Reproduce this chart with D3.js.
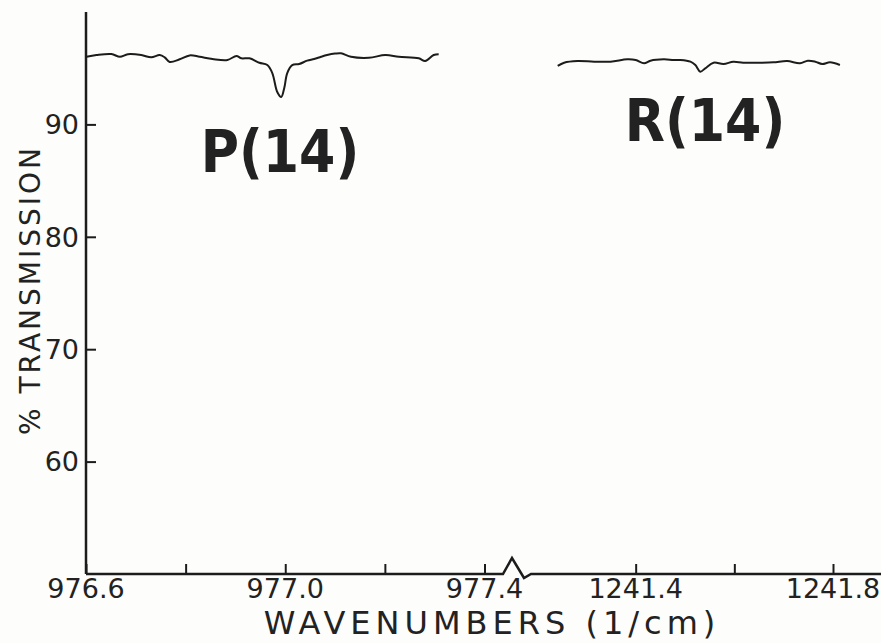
<!DOCTYPE html>
<html>
<head>
<meta charset="utf-8">
<script src="https://cdn.jsdelivr.net/npm/d3@7"></script>
<style>
  body { margin: 0; background: #fdfdfb; }
  svg text { fill: #222; }
</style>
</head>
<body>
<svg id="chart" width="881" height="643"></svg>
<script>
// P(14) trace, wavenumber (1/cm) and % transmission
var pWave = [976.601, 976.621, 976.651, 976.668, 976.684, 976.711, 976.731, 976.748, 976.758, 976.768,
    976.788, 976.808, 976.828, 976.854, 976.884, 976.902, 976.912, 976.928, 976.948, 976.964,
    976.974, 976.984, 976.992, 976.998, 977.004, 977.014, 977.028, 977.044, 977.058, 977.072,
    977.084, 977.100, 977.112, 977.132, 977.168, 977.201, 977.228, 977.268, 977.281, 977.298, 977.308];
var pTrans = [96.02, 96.17, 96.26, 96.02, 96.24, 96.17, 95.97, 96.17, 95.97, 95.55,
    95.79, 96.14, 96.02, 95.82, 95.73, 96.09, 95.88, 95.88, 95.49, 95.28,
    94.57, 92.88, 92.44, 93.24, 94.57, 95.28, 95.37, 95.67, 95.82, 96.02,
    96.17, 96.30, 96.33, 96.02, 95.93, 96.17, 96.02, 95.88, 95.64, 96.17, 96.24];

// R(14) trace
var rWave = [1241.242, 1241.255, 1241.282, 1241.316, 1241.349, 1241.383, 1241.400, 1241.417, 1241.430, 1241.457,
    1241.477, 1241.491, 1241.511, 1241.521, 1241.531, 1241.541, 1241.558, 1241.578, 1241.598, 1241.618,
    1241.646, 1241.679, 1241.707, 1241.733, 1241.749, 1241.764, 1241.778, 1241.794, 1241.814];
var rTrans = [95.20, 95.49, 95.64, 95.58, 95.58, 95.79, 95.73, 95.44, 95.67, 95.79,
    95.73, 95.73, 95.58, 95.28, 94.69, 94.99, 95.49, 95.37, 95.58, 95.49,
    95.49, 95.52, 95.64, 95.44, 95.67, 95.58, 95.37, 95.52, 95.28];

var yTicks = [60, 70, 80, 90];
var pTicks = [976.6, 976.8, 977.0, 977.2, 977.4];
var pTickLabels = ["976.6", "", "977.0", "", "977.4"];
var rTicks = [1241.4, 1241.6, 1241.8];
var rTickLabels = ["1241.4", "", "1241.8"];

var svg = d3.select("#chart");
var ink = "#1c1c1c";
var font = "'DejaVu Sans', sans-serif";

var y = d3.scaleLinear().domain([50, 100]).range([574, 12]);
var xP = d3.scaleLinear().domain([976.6, 977.4]).range([86, 484.5]);
var xR = d3.scaleLinear().domain([1241.2, 1241.8]).range([537, 833]);

// y axis, ticks pointing inward
var yAxis = svg.append("g")
    .attr("transform", "translate(" + xP(976.6) + ",0)")
    .call(d3.axisRight(y).tickValues(yTicks).tickSize(10).tickFormat(""));
yAxis.select(".domain").remove();
yAxis.selectAll("line").attr("stroke", ink).attr("stroke-width", 2);
svg.append("line")
    .attr("x1", xP(976.6)).attr("x2", xP(976.6))
    .attr("y1", y(100)).attr("y2", y(50))
    .attr("stroke", ink).attr("stroke-width", 2.5);
svg.selectAll(".ylab").data(yTicks).enter().append("text")
    .attr("x", 79).attr("y", function(d) { return y(d); })
    .attr("dy", "0.36em")
    .attr("text-anchor", "end")
    .style("font-family", font).style("font-size", "27px")
    .text(function(d) { return d; });

// x axes, ticks pointing up
function xAxis(scale, ticks, labels) {
    var g = svg.append("g")
        .attr("transform", "translate(0," + y(50) + ")")
        .call(d3.axisTop(scale).tickValues(ticks).tickSize(10).tickFormat(""));
    g.select(".domain").remove();
    g.selectAll("line").attr("stroke", ink).attr("stroke-width", 2);
    svg.selectAll(null).data(ticks).enter().append("text")
        .attr("x", function(d) { return scale(d); })
        .attr("y", 598)
        .attr("text-anchor", "middle")
        .style("font-family", font).style("font-size", "27px")
        .text(function(d, i) { return labels[i]; });
}
xAxis(xP, pTicks, pTickLabels);
xAxis(xR, rTicks, rTickLabels);

// axis baseline with break mark
var y0 = y(50);
svg.append("path")
    .attr("d", d3.line()([[xP(976.6), y0], [503, y0], [512, 558], [524, 578], [531, y0], [881, y0]]))
    .attr("fill", "none").attr("stroke", ink).attr("stroke-width", 2.5)
    .attr("stroke-linejoin", "miter");

// traces
var line = function(sx) {
    return d3.line().x(function(d) { return sx(d[0]); }).y(function(d) { return y(d[1]); }).curve(d3.curveCatmullRom);
};
svg.append("path")
    .datum(d3.zip(pWave, pTrans))
    .attr("d", line(xP))
    .attr("fill", "none").attr("stroke", ink).attr("stroke-width", 2);
svg.append("path")
    .datum(d3.zip(rWave, rTrans))
    .attr("d", line(xR))
    .attr("fill", "none").attr("stroke", ink).attr("stroke-width", 2);

// line labels
var labFont = "'DejaVu Sans Condensed', 'DejaVu Sans', sans-serif";
svg.append("text")
    .attr("x", 280).attr("y", 172)
    .attr("text-anchor", "middle")
    .style("font-family", labFont).style("font-size", "58px").style("font-weight", "bold")
    .text("P(14)");
svg.append("text")
    .attr("x", 705).attr("y", 141)
    .attr("text-anchor", "middle")
    .style("font-family", labFont).style("font-size", "58px").style("font-weight", "bold")
    .text("R(14)");

// axis titles
svg.append("text")
    .attr("x", 492).attr("y", 634)
    .attr("text-anchor", "middle")
    .style("font-family", font).style("font-size", "32px").style("letter-spacing", "5px")
    .text("WAVENUMBERS (1/cm)");
svg.append("text")
    .attr("transform", "translate(40,290) rotate(-90)")
    .attr("text-anchor", "middle")
    .style("font-family", font).style("font-size", "28px").style("letter-spacing", "3px")
    .text("% TRANSMISSION");
</script>
</body>
</html>
